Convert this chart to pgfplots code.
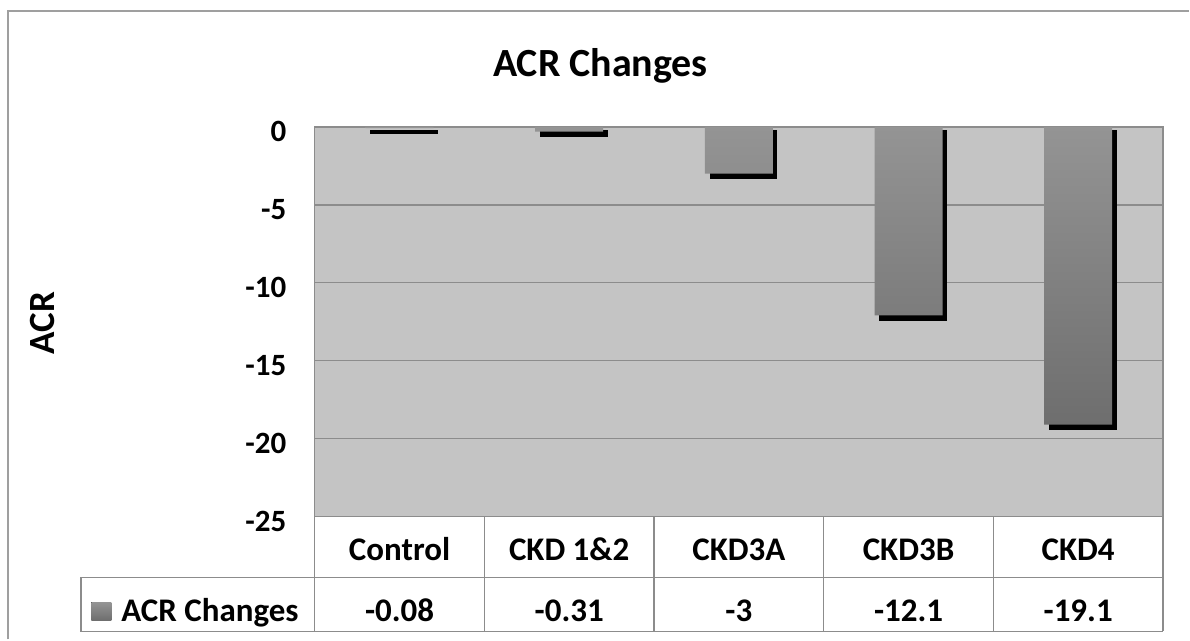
\documentclass[border=0pt]{standalone}
\usepackage{fontspec}
\setmainfont{Carlito}
\usepackage{pgfplots}
\pgfplotsset{compat=1.18}

\definecolor{plotbg}{RGB}{196,196,196}
\definecolor{gridc}{RGB}{140,140,140}
\definecolor{barTop}{RGB}{148,148,148}
\definecolor{barBot}{RGB}{110,110,110}

\newcommand{\tabfont}{\fontsize{16.5}{19}\selectfont\bfseries}

\begin{document}
\begin{tikzpicture}
\begin{axis}[
    at={(157.5pt,-258.5pt)}, anchor=south west,
    scale only axis,
    width=424.5pt, height=195pt,
    xmin=-0.5, xmax=4.5,
    ymin=-25, ymax=0,
    ytick={0,-5,-10,-15,-20,-25},
    xtick={0,1,2,3,4},
    xticklabels={Control,CKD 1\&2,CKD3A,CKD3B,CKD4},
    major tick length=0pt,
    /pgf/number format/assume math mode=true,
    yticklabel style={anchor=east, inner sep=0pt, xshift=-14pt, yshift=-2.5pt,
        font=\fontsize{15.5}{17}\selectfont\bfseries},
    xticklabel style={anchor=base, inner sep=0pt, yshift=-21.8pt, font=\tabfont},
    ymajorgrids=true,
    grid style={gridc, line width=0.7pt},
    axis line style={gridc, line width=0.7pt},
    axis background/.style={fill=plotbg},
    title={ACR Changes},
    every axis title/.style={at={(axis description cs:0.3369,1.1282)}, anchor=base,
        font=\fontsize{20}{24}\selectfont\bfseries},
    ylabel={ACR},
    every axis y label/.style={at={(axis description cs:-0.3062,0.497)}, rotate=90, anchor=base,
        font=\fontsize{18.5}{22}\selectfont\bfseries},
    legend style={at={(axis description cs:-0.2638,-0.2436)}, anchor=west, draw=none, fill=none,
        inner sep=0pt, font=\tabfont, nodes={inner sep=0pt},
        /tikz/every odd column/.append style={column sep=5pt}},
    legend image code/.code={\fill[top color=barTop, bottom color=barBot] (0pt,-4.5pt) rectangle (10pt,4.5pt);},
    clip=false,
]
% shadow of the bars
\addplot[ybar, bar width=33pt, bar shift=0pt, draw=black, line width=1pt, fill=black, forget plot,
    transform canvas={xshift=2.3pt, yshift=-2.3pt}]
    coordinates {(0,-0.08) (1,-0.31) (2,-3) (3,-12.1) (4,-19.1)};
\addplot[ybar, bar width=34pt, bar shift=0pt, draw=none, top color=barTop, bottom color=barBot]
    coordinates {(0,-0.08) (1,-0.31) (2,-3) (3,-12.1) (4,-19.1)};
\addlegendentry{ACR Changes}

% data table below the plot
\draw[gridc, line width=0.6pt]
    (axis cs:-0.5,-25) -- (axis cs:4.5,-25)
    ([yshift=-30.5pt]axis cs:-0.5,-25) -- ([yshift=-30.5pt]axis cs:4.5,-25)
    ([yshift=-57.5pt]axis cs:-0.5,-25) -- ([yshift=-57.5pt]axis cs:4.5,-25);
\pgfplotsinvokeforeach{-0.5,0.5,1.5,2.5,3.5,4.5}{
    \draw[gridc, line width=0.6pt] (axis cs:#1,-25) -- ([yshift=-57.5pt]axis cs:#1,-25);
}
\draw[gridc, line width=0.6pt]
    ([yshift=-30.5pt]axis cs:-0.5,-25) -- ([yshift=-30.5pt]axis description cs:-0.2756,0)
    -- ([yshift=-57.5pt]axis description cs:-0.2756,0) -- ([yshift=-57.5pt]axis cs:-0.5,-25);
\node[anchor=base, inner sep=0pt, font=\tabfont] at ([yshift=-52.5pt]axis cs:0,-25) {-0.08};
\node[anchor=base, inner sep=0pt, font=\tabfont] at ([yshift=-52.5pt]axis cs:1,-25) {-0.31};
\node[anchor=base, inner sep=0pt, font=\tabfont] at ([yshift=-52.5pt]axis cs:2,-25) {-3};
\node[anchor=base, inner sep=0pt, font=\tabfont] at ([yshift=-52.5pt]axis cs:3,-25) {-12.1};
\node[anchor=base, inner sep=0pt, font=\tabfont] at ([yshift=-52.5pt]axis cs:4,-25) {-19.1};
\end{axis}
\draw[gray!75, line width=1pt] (4pt,-320pt) -- (4pt,-5.5pt) -- (595pt,-5.5pt);
\path[use as bounding box] (0pt,0pt) rectangle (595pt,-320pt);
\end{tikzpicture}
\end{document}
